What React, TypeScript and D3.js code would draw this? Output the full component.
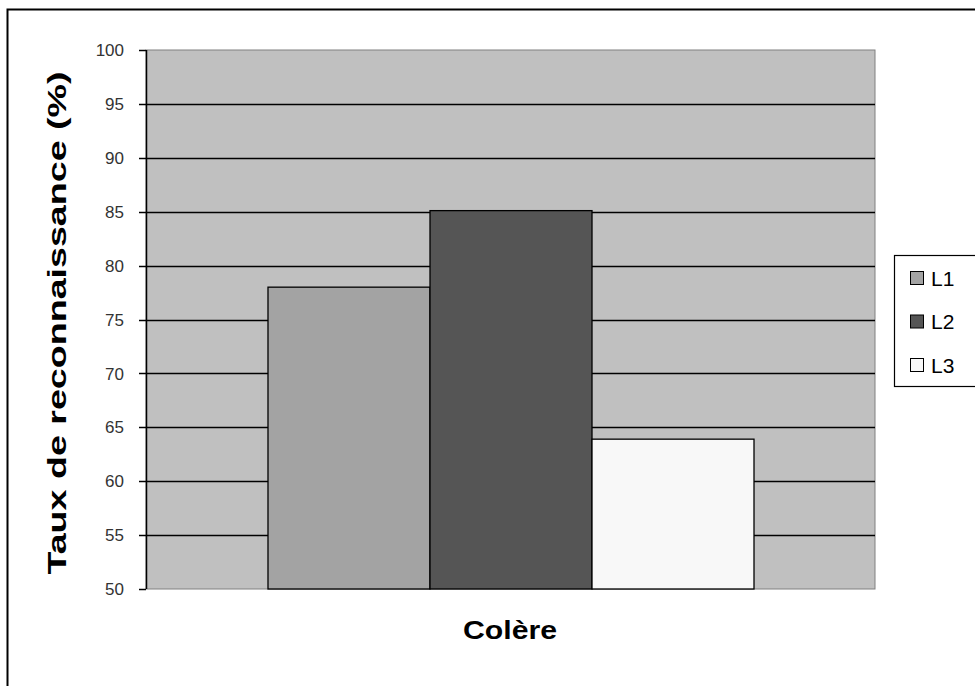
import React from "react";
import * as d3 from "d3";

const categories = ["Colère"];
const seriesNames = ["L1", "L2", "L3"];
const seriesValues = [78, 85.1, 63.9];
const seriesColors = ["#a3a3a3", "#555555", "#f8f8f8"];
const yTicks = [50, 55, 60, 65, 70, 75, 80, 85, 90, 95, 100];

export default function App() {
  const W = 975, H = 686;
  const plot = { left: 146, right: 875, top: 50, bottom: 589 };
  const y = d3.scaleLinear().domain([50, 100]).range([plot.bottom, plot.top]);
  const x0 = d3.scaleBand().domain(categories).range([plot.left, plot.right]);
  const bw = (plot.right - plot.left) / 4.5;
  const x1 = d3.scaleBand().domain(seriesNames).range([0, bw * 3]);
  const groupStart = (x0(categories[0]) as number) + bw * 0.75;
  const font = "Arial, 'Liberation Sans', sans-serif";
  return (
    <svg width={W} height={H} style={{ position: "absolute", left: 0, top: 0 }}>
      <rect x={0} y={0} width={W} height={H} fill="#fff" />
      <rect x={7.5} y={9.5} width={W + 10} height={H + 10} fill="none" stroke="#000" strokeWidth={2} />
      <rect x={plot.left} y={plot.top} width={plot.right - plot.left} height={plot.bottom - plot.top} fill="#c0c0c0" stroke="#808080" strokeWidth={1} />
      {yTicks.map((t) => (
        <g key={t}>
          {t !== 50 && t !== 100 && (
            <line x1={plot.left} x2={plot.right} y1={Math.round(y(t)) + 0.5} y2={Math.round(y(t)) + 0.5} stroke="#000" strokeWidth={1.5} />
          )}
          <line x1={139} x2={plot.left} y1={Math.round(y(t)) + 0.5} y2={Math.round(y(t)) + 0.5} stroke="#000" strokeWidth={1.5} />
          <text x={124} y={y(t)} dy="0.36em" textAnchor="end" fontFamily={font} fontSize={17} fill="#333">{t}</text>
        </g>
      ))}
      {seriesNames.map((s, i) => (
        <rect key={s} x={groupStart + (x1(s) as number) + 0.5} y={y(seriesValues[i])} width={x1.bandwidth()} height={plot.bottom - y(seriesValues[i])} fill={seriesColors[i]} stroke="#000" strokeWidth={1.3} />
      ))}
      <line x1={plot.left + 0.5} x2={plot.left + 0.5} y1={plot.top} y2={plot.bottom} stroke="#000" strokeWidth={1.5} />
      <text x={510} y={639} textAnchor="middle" fontFamily={font} fontSize={25} fontWeight="bold" fill="#000" textLength={94} lengthAdjust="spacingAndGlyphs">{categories[0]}</text>
      <text transform={`translate(66,${323}) rotate(-90)`} textAnchor="middle" fontFamily={font} fontSize={26} fontWeight="bold" fill="#000" textLength={503} lengthAdjust="spacingAndGlyphs">Taux de reconnaissance (%)</text>
      <rect x={894.5} y={255.5} width={100} height={131} fill="#fff" stroke="#000" strokeWidth={1.2} />
      {seriesNames.map((s, i) => (
        <g key={s}>
          <rect x={910.5} y={271.5 + i * 43.5} width={13} height={13} fill={seriesColors[i]} stroke="#000" strokeWidth={1} />
          <text x={931} y={278 + i * 43.5} dy="0.36em" fontFamily={font} fontSize={21} fill="#000">{s}</text>
        </g>
      ))}
    </svg>
  );
}
